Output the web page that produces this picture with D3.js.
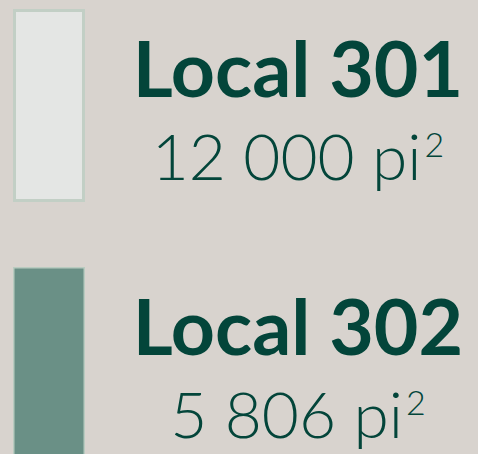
<!DOCTYPE html>
<html>
<head>
<meta charset="utf-8">
<script src="https://cdn.jsdelivr.net/npm/d3@7.9.0/dist/d3.min.js"></script>
<style>
  html, body { margin: 0; padding: 0; background: #d8d3ce; overflow: hidden; }
</style>
</head>
<body>
<div id="chart"></div>
<script>
// data
const units = ["Local 301", "Local 302"];
const areas = [12000, 5806];
const unitBase = "pi";
const unitExp = "2";

const fills = ["#e4e6e4", "#6a9086"];
const strokes = ["#c2cfc5", "#b9cbc0"];
const strokeWidths = [3, 1.5];

const width = 478, height = 454;
const textColor = "#03453a";

const svg = d3.select("#chart")
    .append("svg")
    .attr("width", width)
    .attr("height", height);

svg.append("rect")
    .attr("width", width)
    .attr("height", height)
    .attr("fill", "#d8d3ce");

// rows
const y = d3.scaleBand()
    .domain(units)
    .range([9, 460])
    .paddingInner(0.252);

// thousands with a space, French style
const fmt = d => d3.format(",")(d).replace(/,/g, " ");

const rows = svg.selectAll("g.row")
    .data(units.map((u, i) => ({ unit: u, area: areas[i], i })))
    .join("g")
    .attr("class", "row");

rows.append("rect")
    .attr("x", d => 13 + strokeWidths[d.i] / 2)
    .attr("y", d => y(d.unit) + strokeWidths[d.i] / 2)
    .attr("width", d => 72 - strokeWidths[d.i])
    .attr("height", d => y.bandwidth() - strokeWidths[d.i])
    .attr("fill", d => fills[d.i])
    .attr("stroke", d => strokes[d.i])
    .attr("stroke-width", d => strokeWidths[d.i]);

const cx = 298;

rows.append("text")
    .attr("x", cx)
    .attr("y", d => y(d.unit) + 88)
    .attr("text-anchor", "middle")
    .attr("font-family", "Lato, 'Open Sans', sans-serif")
    .attr("font-weight", 700)
    .attr("font-size", "77px")
    .attr("fill", textColor)
    .text(d => d.unit);

const val = rows.append("text")
    .attr("x", cx)
    .attr("y", d => y(d.unit) + 171)
    .attr("text-anchor", "middle")
    .attr("font-family", "Lato, 'Open Sans', sans-serif")
    .attr("font-weight", 300)
    .attr("font-size", "64px")
    .attr("fill", textColor);

val.append("tspan")
    .text(d => fmt(d.area) + " " + unitBase);

val.append("tspan")
    .attr("dx", 3)
    .attr("dy", -23)
    .attr("font-size", "34px")
    .text(unitExp);
</script>
</body>
</html>
